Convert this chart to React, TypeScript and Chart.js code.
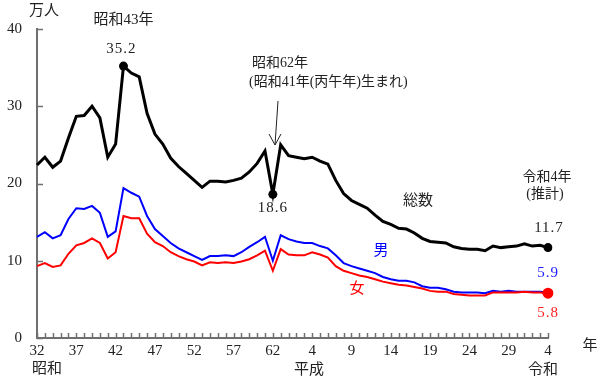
import React, { useEffect, useRef } from "react";
import { Chart, registerables } from "chart.js";

Chart.register(...registerables);

// Categories: 昭和32年 (1957) ... 令和4年 (2022)
const years = [
  "1957","1958","1959","1960","1961","1962","1963","1964","1965","1966",
  "1967","1968","1969","1970","1971","1972","1973","1974","1975","1976",
  "1977","1978","1979","1980","1981","1982","1983","1984","1985","1986",
  "1987","1988","1989","1990","1991","1992","1993","1994","1995","1996",
  "1997","1998","1999","2000","2001","2002","2003","2004","2005","2006",
  "2007","2008","2009","2010","2011","2012","2013","2014","2015","2016",
  "2017","2018","2019","2020","2021","2022",
];

const tickLabels = ["32","37","42","47","52","57","62","4","9","14","19","24","29","4"];
const yTicks = [0, 10, 20, 30, 40];

const total = [
  22.4, 23.4, 22.1, 22.9, 25.9, 28.7, 28.8, 30.0, 28.5, 23.4,
  25.1, 35.2, 34.3, 33.8, 29.1, 26.4, 25.1, 23.3, 22.2, 21.3,
  20.4, 19.5, 20.3, 20.3, 20.2, 20.4, 20.7, 21.5, 22.6, 24.2,
  18.6, 25.0, 23.6, 23.4, 23.2, 23.4, 22.9, 22.5, 20.4, 18.7,
  17.8, 17.3, 16.8, 15.9, 15.1, 14.7, 14.2, 14.1, 13.6, 12.9,
  12.5, 12.4, 12.3, 11.8, 11.6, 11.5, 11.5, 11.3, 11.9, 11.7,
  11.8, 11.9, 12.2, 11.9, 12.0, 11.7,
];

const male = [
  13.1, 13.7, 12.9, 13.3, 15.4, 16.8, 16.7, 17.1, 16.2, 13.1,
  13.8, 19.4, 18.8, 18.3, 15.8, 14.1, 13.2, 12.3, 11.6, 11.1,
  10.6, 10.1, 10.6, 10.6, 10.7, 10.6, 11.1, 11.8, 12.4, 13.1,
  10.0, 13.3, 12.8, 12.5, 12.3, 12.3, 11.9, 11.6, 10.7, 9.7,
  9.3, 9.0, 8.7, 8.4, 7.9, 7.6, 7.4, 7.4, 7.2, 6.7,
  6.5, 6.5, 6.3, 6.0, 5.9, 5.9, 5.9, 5.8, 6.1, 6.0,
  6.1, 6.0, 6.0, 6.0, 6.0, 5.9,
];

const female = [
  9.3, 9.7, 9.2, 9.4, 10.9, 12.0, 12.3, 12.9, 12.3, 10.3,
  11.1, 15.8, 15.5, 15.5, 13.5, 12.4, 11.9, 11.1, 10.6, 10.2,
  9.9, 9.4, 9.8, 9.7, 9.8, 9.7, 9.9, 10.2, 10.7, 11.3,
  8.7, 11.5, 10.8, 10.7, 10.7, 11.1, 10.8, 10.4, 9.3, 8.7,
  8.4, 8.1, 7.9, 7.6, 7.3, 7.1, 6.9, 6.8, 6.6, 6.4,
  6.1, 6.0, 6.0, 5.7, 5.6, 5.5, 5.5, 5.5, 5.9, 5.9,
  5.9, 5.9, 6.0, 5.9, 5.9, 5.8,
];

const totalMarkers = [11, 30, 65];
const femaleMarkers = [65];

const SERIF = '"Liberation Serif", "Noto Sans CJK JP", serif';
const TEXT = "#222222";
const AXIS = "#6f6f6f";

const annotate = {
  id: "annotate",
  afterDraw(chart: any) {
    const { ctx, scales } = chart;
    const xs = scales.x;
    const ys = scales.y;
    const area = chart.chartArea;
    ctx.save();

    // inner ticks
    ctx.strokeStyle = AXIS;
    ctx.lineWidth = 1.5;
    ctx.beginPath();
    for (let i = 0; i < years.length; i++) {
      const px = Math.round(xs.getPixelForValue(i)) + 0.5;
      ctx.moveTo(px, area.bottom);
      ctx.lineTo(px, area.bottom - 5);
    }
    yTicks.forEach((v) => {
      const py = Math.round(ys.getPixelForValue(v)) + 0.5;
      ctx.moveTo(area.left, py);
      ctx.lineTo(area.left + 6, py);
    });
    ctx.stroke();

    const text = (s: string, x: number, y: number, color = TEXT, align: CanvasTextAlign = "center", size = 15, spacing = "0px") => {
      ctx.font = `${size}px ${SERIF}`;
      ctx.fillStyle = color;
      ctx.textAlign = align;
      ctx.textBaseline = "middle";
      (ctx as any).letterSpacing = spacing;
      ctx.fillText(s, x, y);
      (ctx as any).letterSpacing = "0px";
    };

    const x68 = xs.getPixelForValue(11);
    const x87 = xs.getPixelForValue(30);
    const xEnd = xs.getPixelForValue(65);

    text("万人", 44, 11, TEXT, "center", 15);
    text("昭和43年", x68, 20, TEXT, "center", 15);
    text("35.2", x68 - 2, 49, TEXT, "center", 15, "1px");
    text("昭和62年", 252, 63, TEXT, "left", 14);
    text("(昭和41年(丙午年)生まれ)", 249, 82, TEXT, "left", 14);
    text("18.6", x87, 208, TEXT, "center", 15, "1px");
    text("総数", 418, 201, TEXT, "center", 15);
    text("男", 381, 251, "#0000ff", "center", 15);
    text("女", 357, 289, "#ff0000", "center", 15);
    text("令和4年", xEnd - 1, 177, TEXT, "center", 14);
    text("(推計)", xEnd - 3, 194, TEXT, "center", 14);
    text("11.7", xEnd + 1, 228, TEXT, "center", 15, "1px");
    text("5.9", xEnd, 273, "#2020ff", "center", 15, "1px");
    text("5.8", xEnd, 313, "#ff2020", "center", 15, "1px");
    text("年", 590, 346, TEXT, "center", 15);
    text("昭和", 47, 369, TEXT, "center", 15);
    text("平成", 309, 370, TEXT, "center", 15);
    text("令和", 543, 370, TEXT, "center", 15);

    // arrow
    ctx.strokeStyle = "#222";
    ctx.lineWidth = 1;
    ctx.beginPath();
    ctx.moveTo(278, 101);
    ctx.lineTo(275, 145);
    ctx.moveTo(269, 134);
    ctx.lineTo(275, 145);
    ctx.lineTo(281, 134);
    ctx.stroke();

    ctx.restore();
  },
};

export default function App() {
  const ref = useRef<HTMLCanvasElement | null>(null);

  useEffect(() => {
    document.body.style.margin = "0";
    const canvas = ref.current;
    if (!canvas) return;
    const chart = new Chart(canvas, {
      type: "line",
      data: {
        labels: years,
        datasets: [
          {
            label: "女",
            data: female,
            borderColor: "#ff0000",
            backgroundColor: "#ff0000",
            borderWidth: 2,
            pointRadius: (c: any) => (femaleMarkers.includes(c.dataIndex) ? 5.5 : 0),
            pointBorderWidth: 0,
            tension: 0,
          },
          {
            label: "男",
            data: male,
            borderColor: "#0000ff",
            backgroundColor: "#0000ff",
            borderWidth: 2,
            pointRadius: 0,
            tension: 0,
          },
          {
            label: "総数",
            data: total,
            borderColor: "#000000",
            backgroundColor: "#000000",
            borderWidth: 3,
            pointRadius: (c: any) => (totalMarkers.includes(c.dataIndex) ? 4.5 : 0),
            pointBorderWidth: 0,
            tension: 0,
          },
        ],
      },
      options: {
        responsive: false,
        animation: false,
        layout: { padding: { top: 29, right: 52, left: 0, bottom: 0 } },
        plugins: { legend: { display: false }, tooltip: { enabled: false } },
        scales: {
          x: {
            type: "category",
            offset: false,
            grid: { display: false, drawTicks: false },
            border: { display: true, color: AXIS, width: 2 },
            ticks: {
              autoSkip: false,
              maxRotation: 0,
              padding: 4,
              color: TEXT,
              font: { family: SERIF, size: 15 },
              callback: (_v: any, i: number) => (i % 5 === 0 ? tickLabels[i / 5] : ""),
            },
            afterFit: (s: any) => {
              s.height = 40;
            },
          },
          y: {
            min: 0,
            max: 40,
            grid: { display: false, drawTicks: false },
            border: { display: true, color: AXIS, width: 2 },
            ticks: {
              stepSize: 10,
              padding: 15,
              color: TEXT,
              font: { family: SERIF, size: 15 },
            },
            afterFit: (s: any) => {
              s.width = 37;
            },
          },
        },
      },
      plugins: [annotate],
    });
    return () => chart.destroy();
  }, []);

  return (
    <div style={{ width: 600, height: 378, background: "#fff" }}>
      <canvas ref={ref} width={600} height={378} style={{ display: "block" }} />
    </div>
  );
}
